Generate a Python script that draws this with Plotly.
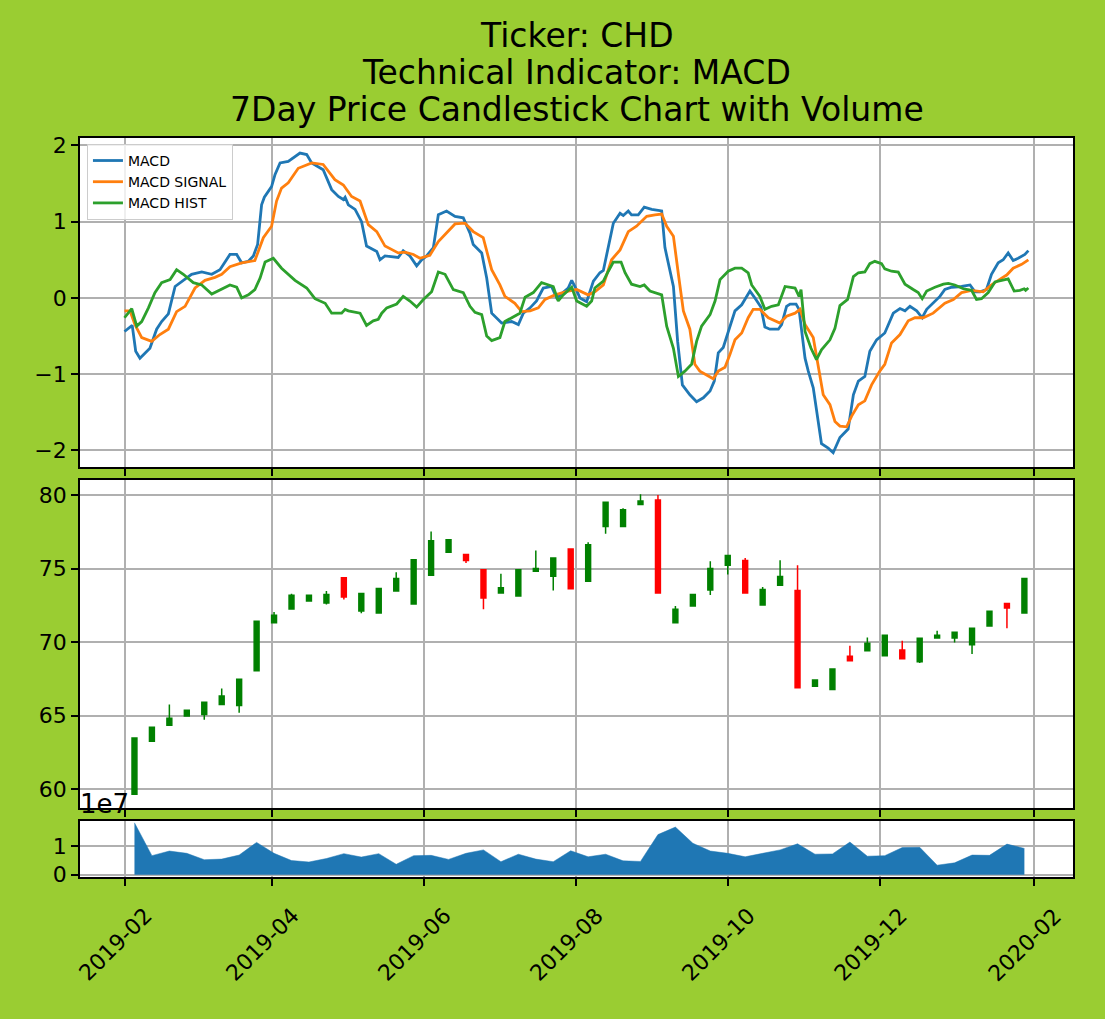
import pandas as pd
import plotly.graph_objects as go

# ---------------- data ----------------
BASE = pd.Timestamp("2019-02-01")

# MACD (days after 2019-02-01, value)
macd_days = [0, 3.1, 4.5, 6.2, 10.2, 12.9, 14.9, 17.6, 20.3, 22.9, 26.9, 31, 35, 38.3, 42.3, 45, 47, 49.7, 51.7,
             53.4, 55, 56.1, 59, 60.4, 62.4, 65.7, 67.7, 70.4, 73.1, 75.1, 79.7, 83.1, 85.8, 87.8, 88.5, 89.8,
             92.5, 95.1, 97.1, 101.2, 102.5, 104.5, 109.8, 111.8, 114.5, 117.2, 119.2, 121.2, 123.9, 125.9,
             129.2, 132.6, 135.9, 138.6, 139.9, 143.3, 145.3, 147.3, 151.3, 155.3, 158, 160, 162.7, 165.3, 168,
             171.3, 173.4, 176, 178, 179.4, 180.7, 182.7, 185.4, 188.1, 190.7, 192.1, 194.1, 196.1, 198.8, 200.1,
             202.1, 203.4, 206.1, 208.5, 211.5, 215.5, 216.8, 220.2, 221.9, 223.8, 226.8, 229.5, 232.2, 234.9,
             236.6, 238.2, 240.2, 242.2, 244.9, 247.6, 250.9, 252.9, 255.3, 256.9, 258.9, 262.3, 263.6, 265.6,
             267, 269.4, 270.6, 273, 274.3, 276.3, 278.3, 279.6, 282.3, 284.3, 287, 290.3, 292.4, 294.4, 297,
             299, 301.7, 305, 308.4, 311.1, 313.1, 315.1, 317.8, 320, 321.8, 324.4, 327.1, 329.1, 331.8, 335.8,
             339.2, 341.2, 343.2, 345.8, 347.8, 350.5, 352.5, 354.5, 356.5, 358.5, 361.2, 362.6]
macd_vals = [-0.44, -0.36, -0.70, -0.79, -0.66, -0.41, -0.31, -0.21, 0.15, 0.21, 0.31, 0.34, 0.31, 0.37, 0.57,
             0.57, 0.46, 0.48, 0.55, 0.70, 1.22, 1.32, 1.46, 1.62, 1.77, 1.79, 1.84, 1.90, 1.88, 1.77, 1.68, 1.42,
             1.33, 1.29, 1.32, 1.22, 1.16, 1.00, 0.68, 0.61, 0.50, 0.55, 0.53, 0.62, 0.55, 0.42, 0.50, 0.55, 0.66,
             1.09, 1.14, 1.07, 1.05, 0.85, 0.70, 0.59, 0.26, -0.20, -0.33, -0.31, -0.35, -0.20, -0.13, -0.04, 0.13,
             0.15, 0.00, 0.08, 0.13, 0.23, 0.15, 0.00, -0.05, 0.22, 0.33, 0.36, 0.66, 0.98, 1.11, 1.08, 1.14, 1.09,
             1.09, 1.19, 1.16, 1.14, 0.66, 0.15, -0.57, -1.14, -1.27, -1.36, -1.31, -1.22, -1.09, -0.72, -0.65,
             -0.44, -0.17, -0.09, 0.09, 0.00, -0.12, -0.38, -0.41, -0.41, -0.35, -0.11, -0.08, -0.08, -0.15, -0.79,
             -0.96, -1.18, -1.66, -1.91, -1.97, -2.03, -1.83, -1.72, -1.27, -1.09, -1.03, -0.70, -0.55, -0.46,
             -0.20, -0.14, -0.17, -0.11, -0.17, -0.26, -0.15, -0.07, 0.02, 0.11, 0.14, 0.15, 0.17, 0.08, 0.08,
             0.11, 0.31, 0.46, 0.50, 0.59, 0.49, 0.52, 0.57, 0.62]

signal_days = [0, 2.2, 4.2, 6.9, 10.9, 14.2, 17.6, 20.9, 24.3, 28.3, 32.3, 36.3, 39, 42.3, 47, 52.3, 55.7, 59, 61,
               63, 65.7, 69.7, 75.1, 79.7, 84.4, 87.8, 91.1, 94.5, 97.8, 101.2, 104.5, 109.8, 112.5, 115.9, 118.5,
               122.5, 125.9, 129.2, 132.6, 136.6, 139.9, 143.9, 147.3, 150.6, 152.6, 156.6, 159.3, 162.7, 166,
               168.7, 172.7, 178, 181.4, 186, 188.7, 192.1, 195.4, 198.8, 202.1, 205.4, 209.5, 212.8, 215.5, 217.5,
               220.2, 222.2, 224.2, 226.8, 228.8, 230.8, 233.5, 236.2, 238.2, 240.9, 242.9, 244.9, 247.6, 250.2,
               252.2, 254.9, 258.3, 262.9, 265.6, 269, 271, 273, 276.3, 278.3, 280.3, 283, 285, 287, 289.7, 291.7,
               294.4, 297, 299.7, 303, 305, 307.7, 311.1, 314.4, 317.1, 320.4, 324.4, 329.1, 332.5, 335.8, 339.8,
               344.5, 347.8, 351.9, 353.9, 356.5, 359.9, 362.6]
signal_vals = [-0.17, -0.17, -0.35, -0.52, -0.57, -0.48, -0.41, -0.18, -0.11, 0.13, 0.23, 0.27, 0.31, 0.41, 0.46,
               0.49, 0.79, 0.94, 1.27, 1.44, 1.51, 1.70, 1.77, 1.75, 1.55, 1.48, 1.33, 1.27, 0.96, 0.87, 0.68, 0.59,
               0.60, 0.57, 0.52, 0.56, 0.74, 0.85, 0.97, 0.98, 0.87, 0.79, 0.37, 0.17, 0.02, -0.07, -0.18, -0.17,
               -0.13, -0.02, 0.04, 0.09, 0.11, 0.04, 0.08, 0.17, 0.50, 0.63, 0.87, 0.94, 1.07, 1.09, 1.10, 0.94,
               0.81, 0.31, -0.17, -0.41, -0.87, -0.96, -1.01, -1.06, -0.96, -0.91, -0.74, -0.55, -0.46, -0.26,
               -0.15, -0.15, -0.26, -0.33, -0.24, -0.20, -0.15, -0.35, -0.52, -0.87, -1.27, -1.40, -1.62, -1.68,
               -1.69, -1.55, -1.40, -1.35, -1.14, -0.96, -0.87, -0.59, -0.48, -0.30, -0.26, -0.26, -0.20, -0.07,
               -0.02, 0.07, 0.10, 0.08, 0.17, 0.26, 0.30, 0.39, 0.44, 0.50]

hist_days = [0, 2.9, 4.9, 6.9, 9.6, 12.2, 14.9, 18.3, 20.9, 23.6, 27.6, 31, 35, 39, 42.3, 45, 47, 49.7, 52.3, 54.4,
             56.4, 59.7, 63, 68.4, 73.1, 76.4, 80.5, 83.1, 87.1, 88.5, 89.8, 94.5, 97.1, 99.8, 101.8, 103.2, 105.2,
             109.2, 111.8, 114.5, 117.2, 119.9, 123.2, 125.9, 128.6, 131.9, 135.9, 138.6, 140.6, 143.3, 145.3,
             147.3, 150.6, 152.6, 155.3, 158.6, 160.7, 164, 167.3, 172, 174, 176, 179.4, 181.4, 185.4, 187.4,
             188.7, 192.1, 194.1, 196.1, 199.2, 200.8, 203.4, 206.8, 208.5, 210.8, 215.5, 217.5, 220.2, 222.2,
             224.8, 227.5, 229.5, 231.5, 234.9, 236.9, 238.9, 242.2, 244.9, 247.6, 250.2, 251.6, 254.9, 256.9,
             259.6, 262.3, 265, 269, 270.6, 271.4, 273, 275.4, 277.6, 279.6, 283, 285, 287, 288.3, 290.1, 292.4,
             294.4, 297, 299, 301, 303.7, 305, 307.7, 310.4, 313.1, 316.4, 318.4, 320, 321.8, 325.1, 328.5, 330.5,
             333.1, 336.5, 339.8, 341.8, 343.8, 346.5, 349.2, 351.9, 354.5, 356.9, 359.2, 360.9, 361.5, 362.6]
hist_vals = [-0.26, -0.14, -0.37, -0.31, -0.13, 0.07, 0.20, 0.24, 0.37, 0.31, 0.20, 0.17, 0.05, 0.11, 0.17, 0.14,
             0.00, 0.04, 0.11, 0.26, 0.47, 0.52, 0.39, 0.23, 0.13, -0.01, -0.07, -0.20, -0.20, -0.15, -0.17, -0.20,
             -0.36, -0.30, -0.28, -0.20, -0.13, -0.08, 0.02, -0.04, -0.12, -0.02, 0.08, 0.34, 0.31, 0.11, 0.07,
             -0.11, -0.19, -0.22, -0.50, -0.56, -0.52, -0.31, -0.26, -0.20, 0.01, 0.07, 0.20, 0.15, -0.04, 0.04,
             0.14, -0.04, -0.11, -0.04, 0.13, 0.22, 0.35, 0.47, 0.47, 0.33, 0.18, 0.15, 0.17, 0.09, 0.04, -0.37,
             -0.66, -1.03, -0.96, -0.87, -0.57, -0.37, -0.22, -0.04, 0.24, 0.35, 0.39, 0.39, 0.33, 0.17, 0.02,
             -0.15, -0.11, -0.09, 0.15, 0.13, 0.02, 0.11, -0.44, -0.66, -0.81, -0.68, -0.55, -0.40, -0.10, -0.07,
             -0.02, 0.28, 0.33, 0.34, 0.45, 0.48, 0.45, 0.38, 0.35, 0.34, 0.18, 0.11, 0.07, -0.01, 0.09, 0.14,
             0.18, 0.19, 0.17, 0.12, 0.10, -0.02, -0.01, 0.07, 0.21, 0.23, 0.25, 0.09, 0.10, 0.12, 0.10, 0.13]

# Weekly candles
week_dates = pd.date_range("2019-02-05", periods=52, freq="7D")
opens = [59.68, 63.27, 64.35, 64.98, 65.09, 65.77, 65.70, 68.06, 71.31, 72.25, 72.79, 72.66, 74.37, 72.12, 71.98,
         73.47, 72.59, 74.55, 76.10, 75.95, 74.91, 73.33, 73.13, 74.82, 74.48, 76.33, 74.14, 77.86, 77.86, 79.35,
         79.66, 71.31, 72.45, 73.54, 75.23, 75.54, 72.52, 73.87, 73.51, 67.00, 66.78, 69.05, 69.41, 69.08, 69.46,
         68.67, 70.29, 70.29, 69.82, 71.10, 72.63, 71.98]
highs = [63.49, 64.23, 65.77, 65.40, 65.92, 66.85, 67.48, 71.42, 72.05, 73.29, 73.22, 73.47, 74.37, 73.31, 73.65,
         74.75, 75.59, 77.52, 76.96, 75.95, 74.91, 74.64, 74.91, 76.22, 75.72, 76.33, 76.78, 79.50, 79.10, 80.05,
         80.00, 72.45, 73.24, 75.50, 75.88, 75.72, 73.74, 75.56, 75.23, 67.43, 68.22, 69.75, 70.32, 70.47, 70.09,
         70.27, 70.77, 70.68, 70.95, 72.09, 72.63, 74.32]
lows = [59.68, 63.27, 64.30, 64.95, 64.73, 65.77, 65.20, 68.06, 71.31, 72.25, 72.79, 72.56, 72.90, 71.96, 71.98,
        73.47, 72.59, 74.55, 76.10, 75.38, 72.23, 73.33, 73.13, 74.82, 73.51, 73.62, 74.14, 77.36, 77.86, 79.35,
        73.33, 71.31, 72.45, 73.20, 74.60, 73.33, 72.52, 73.87, 66.91, 67.00, 66.78, 68.74, 69.41, 69.08, 68.87,
        68.58, 70.29, 69.98, 69.19, 71.10, 70.95, 71.98]
closes = [63.49, 64.23, 64.84, 65.38, 65.92, 66.35, 67.48, 71.42, 71.82, 73.18, 73.18, 73.24, 73.06, 73.31, 73.65,
          74.32, 75.59, 76.89, 76.96, 75.54, 73.00, 73.69, 74.91, 75.00, 75.72, 73.62, 76.62, 79.50, 78.99, 79.59,
          73.33, 72.23, 73.24, 75.00, 75.88, 73.33, 73.58, 74.46, 66.91, 67.43, 68.18, 68.74, 69.93, 70.47, 68.87,
          70.27, 70.47, 70.68, 70.95, 72.09, 72.32, 74.32]
volumes = [18.0e6, 6.6e6, 8.2e6, 7.4e6, 5.2e6, 5.4e6, 6.8e6, 11.2e6, 7.4e6, 4.9e6, 4.4e6, 5.6e6, 7.3e6, 6.1e6,
           7.3e6, 3.6e6, 6.6e6, 6.7e6, 5.3e6, 7.4e6, 8.6e6, 4.5e6, 7.1e6, 5.4e6, 4.5e6, 8.3e6, 6.2e6, 7.1e6,
           4.8e6, 4.6e6, 13.9e6, 16.5e6, 10.9e6, 8.2e6, 7.4e6, 6.2e6, 7.4e6, 8.6e6, 10.7e6, 7.1e6, 7.2e6, 11.3e6,
           6.4e6, 6.6e6, 9.4e6, 9.5e6, 3.3e6, 4.1e6, 6.8e6, 6.7e6, 10.6e6, 9.1e6]

tick_dates = ["2019-02-01", "2019-04-01", "2019-06-01", "2019-08-01", "2019-10-01", "2019-12-01", "2020-02-01"]
tick_labels = ["2019-02", "2019-04", "2019-06", "2019-08", "2019-10", "2019-12", "2020-02"]
title_lines = ["Ticker: CHD", "Technical Indicator: MACD", "7Day Price Candlestick Chart with Volume"]

# ---------------- figure ----------------
FONT = "DejaVu Sans"
TICK = 22
to_dates = lambda days: [BASE + pd.Timedelta(days=d) for d in days]

fig = go.Figure()
fig.add_trace(go.Scatter(x=to_dates(macd_days), y=macd_vals, mode="lines", name="MACD",
                         line=dict(color="#1f77b4", width=2.8), xaxis="x", yaxis="y"))
fig.add_trace(go.Scatter(x=to_dates(signal_days), y=signal_vals, mode="lines", name="MACD SIGNAL",
                         line=dict(color="#ff7f0e", width=2.8), xaxis="x", yaxis="y"))
fig.add_trace(go.Scatter(x=to_dates(hist_days), y=hist_vals, mode="lines", name="MACD HIST",
                         line=dict(color="#2ca02c", width=2.8), xaxis="x", yaxis="y"))

fig.add_trace(go.Candlestick(x=week_dates, open=opens, high=highs, low=lows, close=closes,
                             increasing=dict(line=dict(color="green", width=1.5), fillcolor="green"),
                             decreasing=dict(line=dict(color="red", width=1.5), fillcolor="red"),
                             whiskerwidth=0, showlegend=False, xaxis="x2", yaxis="y2"))

fig.add_trace(go.Scatter(x=week_dates, y=volumes, mode="lines", fill="tozeroy",
                         line=dict(color="#1f77b4", width=0.5), fillcolor="#1f77b4",
                         showlegend=False, xaxis="x3", yaxis="y3"))

xrange = ["2019-01-14 03:36", "2020-02-16 12:00"]
common_x = dict(type="date", range=xrange, tickvals=tick_dates, showticklabels=False, ticks="outside",
                ticklen=7, tickwidth=1.6, tickcolor="black", showgrid=True, gridcolor="#b0b0b0", gridwidth=1.6,
                showline=True, mirror=True, linecolor="black", linewidth=1.6, zeroline=False)
common_y = dict(ticks="outside", ticklen=7, tickwidth=1.6, tickcolor="black", showgrid=True,
                gridcolor="#b0b0b0", gridwidth=1.6, showline=True, mirror=True, linecolor="black",
                linewidth=1.6, zeroline=False, tickfont=dict(size=TICK, family=FONT, color="black"))

fig.update_layout(
    width=1105, height=1019,
    margin=dict(l=80, r=32, t=138, b=142, pad=0),
    paper_bgcolor="#9acd32", plot_bgcolor="white",
    font=dict(family=FONT, color="black"),
    boxgap=0.6,
    xaxis=dict(common_x, domain=[0, 1], anchor="y"),
    xaxis2=dict(common_x, domain=[0, 1], anchor="y2", rangeslider=dict(visible=False)),
    xaxis3=dict(common_x, domain=[0, 1], anchor="y3"),
    yaxis=dict(common_y, domain=[0.5548, 1], range=[-2.217, 2.097], tickvals=[-2, -1, 0, 1, 2]),
    yaxis2=dict(common_y, domain=[0.0934, 0.5372], range=[58.74, 81.01], tickvals=[60, 65, 70, 75, 80]),
    yaxis3=dict(common_y, domain=[0, 0.0758], range=[-0.08e7, 1.862e7], tickvals=[0, 1e7],
                ticktext=["0", "1"]),
    legend=dict(x=0.007, y=0.992, xanchor="left", yanchor="top", bgcolor="rgba(255,255,255,0.8)",
                bordercolor="#cccccc", borderwidth=1, font=dict(size=14, family=FONT, color="black"),
                tracegroupgap=0),
    showlegend=True,
)

annotations = []
for d, lab in zip(tick_dates, tick_labels):
    annotations.append(dict(x=d, xref="x3", y=-0.092, yref="paper", text=lab, showarrow=False,
                            textangle=-45, xanchor="center", yanchor="middle", xshift=-9,
                            font=dict(size=TICK, family=FONT, color="black")))
for i, line in enumerate(title_lines):
    annotations.append(dict(x=0.5, xref="paper", y=[1.1386, 1.0886, 1.0386][i], yref="paper", text=line,
                            showarrow=False, xanchor="center", yanchor="middle",
                            font=dict(size=33, family=FONT, color="black")))
annotations.append(dict(x=0, xref="paper", y=0.0758, yref="paper", text="1e7", showarrow=False,
                        xanchor="left", yanchor="bottom", xshift=-2,
                        font=dict(size=26, family=FONT, color="black")))
fig.update_layout(annotations=annotations)

fig.write_html("out.html", config={"displayModeBar": False},
               post_script="document.body.style.margin='0';document.body.style.padding='0';")
